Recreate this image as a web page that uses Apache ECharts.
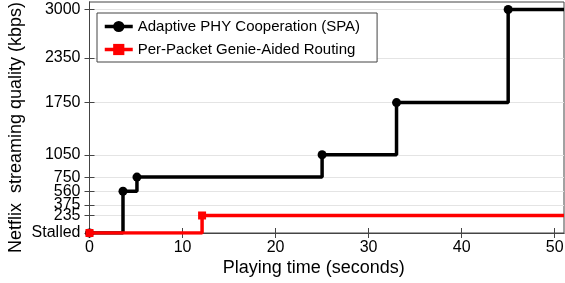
<!DOCTYPE html>
<html>
<head>
<meta charset="utf-8">
<script src="https://cdn.jsdelivr.net/npm/echarts@6/dist/echarts.min.js"></script>
<style>html,body{margin:0;padding:0;background:#fff;}#c{width:565px;height:283px;}</style>
</head>
<body>
<div id="c"></div>
<script>
var spaX = [0, 3.6, 5.1, 25, 33, 45, 51];
var spaY = [0, 560, 750, 1050, 1750, 3000, 3000];
var genieX = [0, 12.1, 51];
var genieY = [0, 235, 235];
var yTicks = [0, 235, 375, 560, 750, 1050, 1750, 2350, 3000];
var yTickLabels = ['Stalled', '235', '375', '560', '750', '1050', '1750', '2350', '3000'];
var xTicks = [0, 10, 20, 30, 40, 50];

function pairs(xs, ys) { return xs.map(function (x, i) { return [x, ys[i]]; }); }
var font = 'Liberation Sans, Arial, Helvetica, sans-serif';
var chart = echarts.init(document.getElementById('c'));
function symSize(n, s) { return function (v, p) { return p.dataIndex === n - 1 ? 0 : s; }; }
chart.setOption({
  animation: false,
  grid: { left: 89.5, right: 1, top: 2, bottom: 50, show: true, borderColor: '#444', borderWidth: 1, outerBoundsMode: 'none', containLabel: false },
  legend: {
    left: 97, top: 13, orient: 'vertical', itemGap: 8, itemWidth: 28, itemHeight: 14,
    backgroundColor: '#fff', borderColor: '#444', borderWidth: 1, borderRadius: 0, padding: [6, 17, 5, 6],
    textStyle: { fontFamily: font, fontSize: 15, color: '#000' },
    lineStyle: { width: 3.5 },
    data: ['Adaptive PHY Cooperation (SPA)', 'Per-Packet Genie-Aided Routing']
  },
  xAxis: [{
    type: 'value', min: 0, max: 51, interval: 10,
    name: 'Playing time (seconds)', nameLocation: 'middle', nameGap: 26, nameMoveOverlap: false,
    nameTextStyle: { fontFamily: font, fontSize: 18, color: '#000', padding: [0, 26, 0, 0] },
    axisLine: { show: true, lineStyle: { color: '#444' } },
    axisTick: { inside: true, length: 5, lineStyle: { color: '#444' }, customValues: xTicks },
    axisLabel: { fontFamily: font, fontSize: 16, color: '#000', margin: 7, customValues: xTicks },
    splitLine: { show: false }
  }, {
    type: 'value', min: 0, max: 51, interval: 10, position: 'top',
    axisLine: { show: true, lineStyle: { color: '#444' } },
    axisTick: { inside: true, length: 5, lineStyle: { color: '#444' }, customValues: xTicks },
    axisLabel: { show: false }, splitLine: { show: false }
  }],
  yAxis: [{
    type: 'value', min: 0, max: 3100,
    name: 'Netflix  streaming quality (kbps)', nameLocation: 'middle', nameGap: 64, nameMoveOverlap: false,
    nameTextStyle: { fontFamily: font, fontSize: 18, color: '#000', padding: [0, 20, 0, 0] },
    axisLine: { show: true, lineStyle: { color: '#444' } },
    axisTick: { inside: true, length: 5, lineStyle: { color: '#444' }, customValues: yTicks },
    axisLabel: {
      fontFamily: font, fontSize: 16, color: '#000', margin: 9, customValues: yTicks,
      formatter: function (v) { var i = yTicks.indexOf(v); return i >= 0 ? yTickLabels[i] : ''; }
    },
    splitLine: { show: true, lineStyle: { color: '#e4e4e4', width: 1 } }
  }, {
    type: 'value', min: 0, max: 3100, position: 'right',
    axisLine: { show: true, lineStyle: { color: '#444' } },
    axisTick: { inside: true, length: 5, lineStyle: { color: '#444' }, customValues: yTicks },
    axisLabel: { show: false, customValues: yTicks }, splitLine: { show: false }
  }],
  series: [{
    name: 'Per-Packet Genie-Aided Routing', type: 'line', step: 'end',
    data: pairs(genieX, genieY), symbol: 'rect', symbolSize: symSize(genieX.length, 8),
    lineStyle: { color: '#ff0000', width: 3.5 }, itemStyle: { color: '#ff0000' }, z: 2
  }, {
    name: 'Adaptive PHY Cooperation (SPA)', type: 'line', step: 'end',
    data: pairs(spaX, spaY), symbol: 'circle', symbolSize: symSize(spaX.length, 9),
    lineStyle: { color: '#000', width: 3.5 }, itemStyle: { color: '#000' }, z: 1
  }]
});
</script>
</body>
</html>
